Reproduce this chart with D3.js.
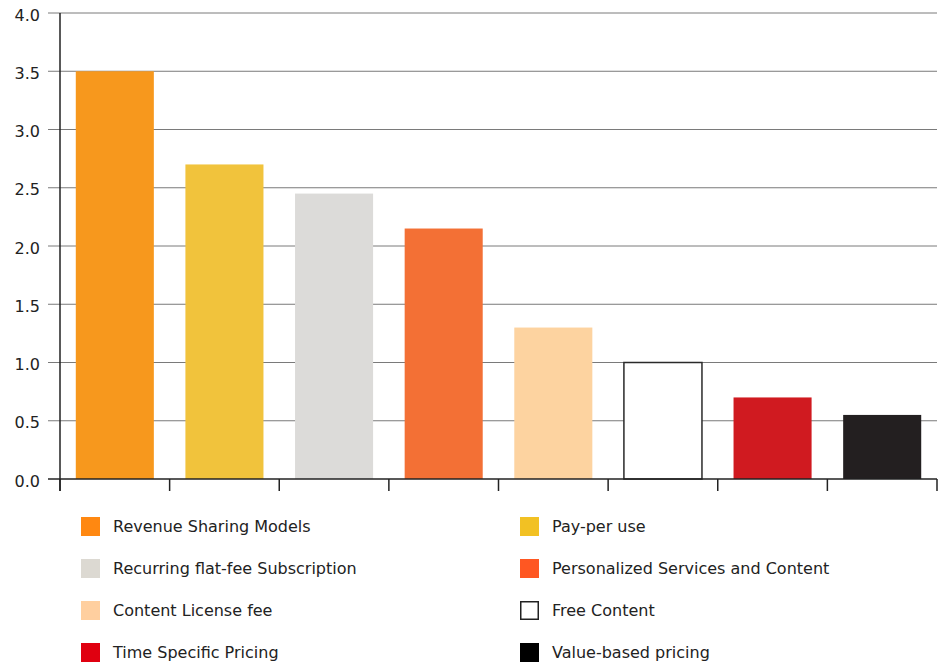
<!DOCTYPE html>
<html><head><meta charset="utf-8">
<script src="https://cdn.jsdelivr.net/npm/d3@7"></script>
<style>
html,body{margin:0;padding:0;background:#fff;}
svg{display:block;font-family:"DejaVu Sans",Verdana,sans-serif;}
</style></head>
<body><svg id="chart" width="940" height="662"></svg>
<script>
const categories = ["Revenue Sharing Models","Pay-per use","Recurring flat-fee Subscription","Personalized Services and Content","Content License fee","Free Content","Time Specific Pricing","Value-based pricing"];
const values = [3.5, 2.7, 2.45, 2.15, 1.3, 1.0, 0.7, 0.55];
const barColors = ["#F7981D","#F1C33C","#DCDBD9","#F37035","#FDD3A0","#FFFFFF","#D01A20","#231F20"];
const legendColors = ["#FF8811","#F2C123","#DCD9D2","#FF5722","#FFCF9F","#FFFFFF","#E00010","#000000"];
const yTicks = [0, 0.5, 1.0, 1.5, 2.0, 2.5, 3.0, 3.5, 4.0];

const svg = d3.select("#chart");
const x0 = 60, x1 = 937, yTop = 13, yBot = 479;
const x = d3.scaleBand().domain(categories).range([x0, x1]).paddingInner(0.288).paddingOuter(0.144);
const y = d3.scaleLinear().domain([0, 4]).range([yBot, yTop]);

// gridlines
svg.append("g").selectAll("line").data(yTicks.filter(d => d > 0)).join("line")
  .attr("x1", 48).attr("x2", x1).attr("y1", d => y(d)).attr("y2", d => y(d))
  .attr("stroke", "#7a7a7a").attr("stroke-width", 1);

// y tick labels
svg.append("g").selectAll("text").data(yTicks).join("text")
  .attr("x", 40).attr("y", d => y(d) + 2).attr("dy", "0.35em")
  .attr("text-anchor", "end").attr("font-size", 16).attr("fill", "#222")
  .text(d => d3.format(".1f")(d));

// bars
svg.append("g").selectAll("rect").data(values).join("rect")
  .attr("x", (d, i) => x(categories[i])).attr("width", x.bandwidth())
  .attr("y", d => y(d)).attr("height", d => yBot - y(d))
  .attr("fill", (d, i) => barColors[i])
  .attr("stroke", (d, i) => barColors[i] === "#FFFFFF" ? "#2a2a2a" : "none")
  .attr("stroke-width", 1.5);

// y axis line
svg.append("line").attr("x1", x0).attr("x2", x0).attr("y1", yTop).attr("y2", 491)
  .attr("stroke", "#222").attr("stroke-width", 1.5);
// x axis baseline
svg.append("line").attr("x1", 48).attr("x2", x1).attr("y1", yBot).attr("y2", yBot)
  .attr("stroke", "#222").attr("stroke-width", 1.5);
// x boundary ticks
const bounds = categories.map(c => x(c) - x.step() * x.paddingOuter()).concat([x1]);
svg.append("g").selectAll("line").data(bounds).join("line")
  .attr("x1", d => d).attr("x2", d => d).attr("y1", yBot).attr("y2", 491)
  .attr("stroke", "#222").attr("stroke-width", 1.5);

// legend
const lg = svg.append("g").selectAll("g").data(categories).join("g")
  .attr("transform", (d, i) => `translate(${i % 2 === 0 ? 81 : 520},${517 + Math.floor(i / 2) * 42})`);
lg.append("rect").attr("width", 19).attr("height", 19)
  .attr("x", (d, i) => legendColors[i] === "#FFFFFF" ? 0.75 : 0)
  .attr("y", (d, i) => legendColors[i] === "#FFFFFF" ? 0.75 : 0)
  .attr("width", (d, i) => legendColors[i] === "#FFFFFF" ? 17.5 : 19)
  .attr("height", (d, i) => legendColors[i] === "#FFFFFF" ? 17.5 : 19)
  .attr("fill", (d, i) => legendColors[i])
  .attr("stroke", (d, i) => legendColors[i] === "#FFFFFF" ? "#222" : "none")
  .attr("stroke-width", 1.5);
lg.append("text").attr("x", 32).attr("y", 15).attr("font-size", 16).attr("fill", "#222").text(d => d);
</script></body></html>
